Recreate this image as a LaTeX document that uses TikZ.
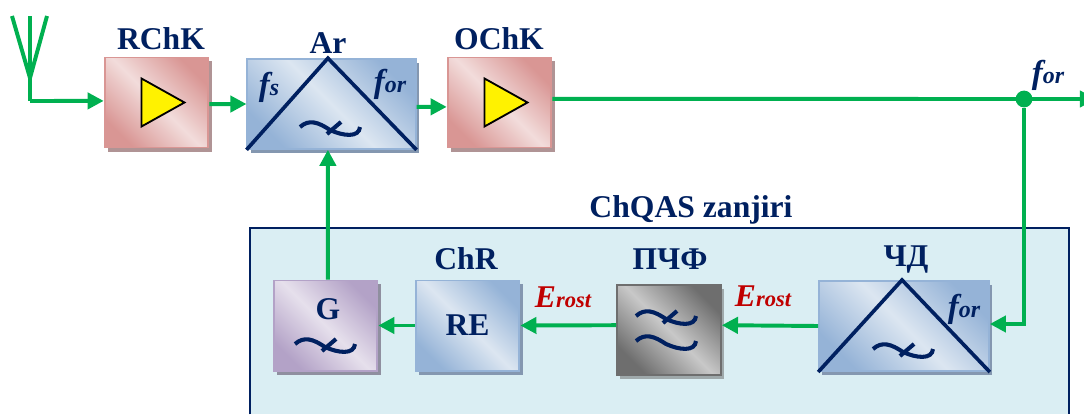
\documentclass[tikz,border=0pt]{standalone}
\usepackage{fontspec}
\setmainfont{Liberation Serif}
\usetikzlibrary{arrows.meta, shadows}

\definecolor{navy}{HTML}{002060}
\definecolor{wire}{HTML}{00B050}
\definecolor{rostred}{HTML}{C00000}
\definecolor{panelfill}{HTML}{DAEEF3}
\definecolor{pinkdark}{HTML}{D99694}
\definecolor{pinklight}{HTML}{F2DCDB}
\definecolor{pinkshadow}{HTML}{B09495}
\definecolor{bluedark}{HTML}{95B3D7}
\definecolor{bluelight}{HTML}{DCE6F1}
\definecolor{blueshadow}{HTML}{8497B0}
\definecolor{purpledark}{HTML}{B3A2C7}
\definecolor{purplelight}{HTML}{E6E0EC}
\definecolor{purpleshadow}{HTML}{8F8F9F}
\definecolor{graydark}{HTML}{6E6E6E}
\definecolor{graylight}{HTML}{C8C8C8}
\definecolor{grayshadow}{HTML}{9FA9AB}

\newcommand{\subtxt}[2]{{\fontsize{23.5}{23.5}\selectfont #1}{\fontsize{17}{17}\selectfont #2}}
\newcommand{\rosttxt}[2]{{\fontsize{22.5}{22.5}\selectfont #1}{\fontsize{16}{16}\selectfont #2}}

\begin{document}
\begin{tikzpicture}[
    x=0.025cm, y=-0.025cm,
    block/.style={rectangle, line width=1.4pt, minimum width=2.59cm, minimum height=2.25cm, inner sep=0pt,
        draw=#1dark, top color=#1dark, bottom color=#1dark, middle color=#1light, shading angle=-45,
        drop shadow={shadow xshift=0.08cm, shadow yshift=-0.1cm, fill=#1shadow, opacity=1}},
    lbl/.style={font=\fontsize{22.5}{22.5}\selectfont\bfseries, text=navy, anchor=base, inner sep=0pt},
    sig/.style={font=\bfseries\itshape, text=navy, anchor=base, inner sep=0pt},
    rost/.style={font=\bfseries\itshape, text=rostred, anchor=base, inner sep=0pt},
    arr/.style={-{Triangle[length=11.5pt, width=11.5pt]}, line width=2.8pt, draw=wire},
    wireline/.style={line width=2.8pt, draw=wire},
    dot/.style={circle, fill=wire, inner sep=0pt, minimum size=0.42cm},
    diag/.style={line width=2.6pt, draw=navy},
    wavy/.style={line width=2.9pt, draw=navy},
    pics/ripple/.style={code={
        \draw[wavy] (-30,-1) .. controls (-21,-9) and (-12,-6) .. (0,2) .. controls (13,8) and (29,10) .. (30,-1);
        \draw[wavy] (-3,6) -- (11,-6);
    }},
    pics/smooth/.style={code={
        \draw[wavy] (-30,-1) .. controls (-21,-9) and (-12,-6) .. (0,2) .. controls (13,8) and (29,10) .. (30,-1);
    }},
    pics/amp/.style={code={
        \draw[fill=yellow, line width=1.3pt] (-15,-24) -- (28,0) -- (-15,24) -- cycle;
    }},
]
\useasboundingbox (0,0) rectangle (1084,414);

% ========== CHQAS PANEL ==========
\node[fill=panelfill, minimum width=20.475cm, minimum height=4.65cm, inner sep=0pt] at (659.5,321) (panel) {};
\draw[line width=1.3pt, navy] (panel.south west) -- (panel.north west) -- (panel.north east) -- (panel.south east);
\node[lbl] at (691,217) (paneltitle) {ChQAS zanjiri};

% ========== TOP ROW ==========
\node[block=pink] at (156.5,102.5) (rchk) {};
\node[block=blue, minimum width=4.2cm, minimum height=2.24cm] at (331.5,104) (ar) {};
\node[block=pink] at (499.5,102.5) (ochk) {};

\node[lbl] at (161,49) (rchklbl) {RChK};
\node[lbl] at (328,53) (arlbl) {Ar};
\node[lbl] at (499,49) (ochklbl) {OChK};

\pic at (156.5,102.5) {amp};
\pic at (499.5,102.5) {amp};

\draw[diag] (ar.south west) -- ([xshift=-0.09cm]ar.north) -- (ar.south east);
\pic at (330,128) {ripple};
\node[sig] at (269,95) (fs) {\subtxt{f}{s}};
\node[sig] at (390,92) (for1) {\subtxt{f}{or}};

% ========== BOTTOM ROW ==========
\node[block=purple] at (325.5,325.5) (g) {};
\node[block=blue] at (467.5,325.5) (re) {\fontsize{22.5}{22.5}\selectfont\bfseries\textcolor{navy}{RE}};
\node[block=gray, minimum height=2.23cm] at (669,330) (pchf) {};
\node[block=blue, minimum width=4.24cm] at (904,326) (chd) {};

\node[lbl] at (328,319) (glbl) {G};
\pic at (325,345) {ripple};
\node[lbl] at (466,269) (chrlbl) {ChR};
\node[lbl] at (670,269) (pchflbl) {ПЧФ};
\pic at (666,317) {ripple};
\pic at (666,342) {smooth};
\node[lbl] at (906,266) (chdlbl) {ЧД};
\draw[diag] (chd.south west) -- ([xshift=-0.05cm]chd.north) -- (chd.south east);
\pic at (903,350) {ripple};
\node[sig] at (964,317) (for2) {\subtxt{f}{or}};

\node[rost] at (563,307) (erost1) {\rosttxt{E}{rost}};
\node[rost] at (763,306) (erost2) {\rosttxt{E}{rost}};

% ========== ANTENNA ==========
\coordinate (anttip) at (30,78);
\coordinate (antl) at (12,16);
\coordinate (antm) at (30,16);
\coordinate (antr) at (47,16);
\coordinate (antfoot) at (30,101);
\draw[wireline] (antl) -- (anttip) -- (antr);
\draw[wireline] (antm) -- (antfoot);
\draw[arr] (antfoot) -- ([yshift=0.04cm]rchk.west);

% ========== CONNECTIONS ==========
\draw[arr] ([yshift=-0.04cm]rchk.east) -- (ar.west);
\draw[arr] ([yshift=-0.07cm]ar.east) -- ([yshift=-0.11cm]ochk.west);

\node[dot] at (1024,99) (junc) {};
\coordinate (out) at (1096,99);
\draw[arr] ([yshift=0.09cm]ochk.east) -- (out);
\node[sig] at (1048,83) (for3) {\subtxt{f}{or}};

\draw[arr] (junc) |- ([yshift=0.05cm]chd.east);
\draw[arr] (chd.west) -- ([yshift=0.12cm]pchf.east);
\draw[arr] ([yshift=0.12cm]pchf.west) -- (re.east);
\draw[arr] (re.west) -- (g.east);
\draw[arr] ([xshift=0.06cm]g.north) -- ([xshift=-0.09cm]ar.south);

\end{tikzpicture}
\end{document}
